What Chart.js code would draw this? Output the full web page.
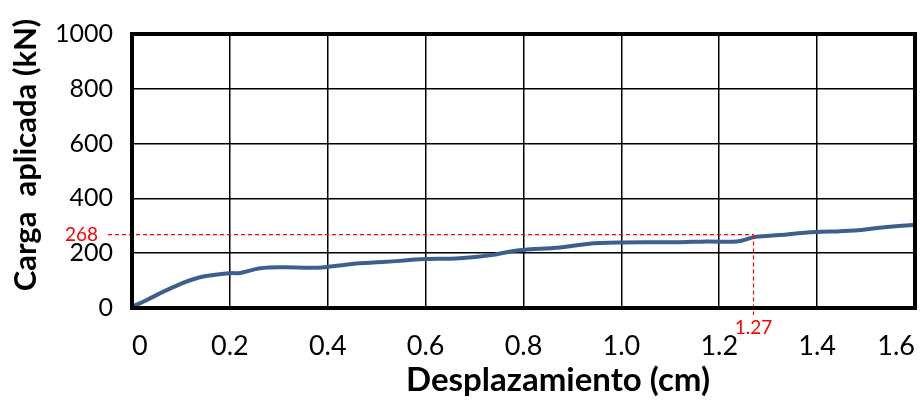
<!DOCTYPE html>
<html>
<head>
<meta charset="utf-8">
<script src="https://cdn.jsdelivr.net/npm/chart.js@4"></script>
<style>
  html, body { margin: 0; padding: 0; background: #fff; }
  #wrap { width: 923px; height: 401px; }
</style>
</head>
<body>
<div id="wrap"><canvas id="loadChart"></canvas></div>
<script>
// Desplazamiento (cm) vs Carga aplicada (kN)
const displacement = [0, 0.022, 0.084, 0.139, 0.2, 0.221, 0.262, 0.309, 0.364, 0.394, 0.466, 0.548, 0.588, 0.67, 0.731, 0.787, 0.875, 0.93, 0.997, 1.12, 1.175, 1.236, 1.275, 1.324, 1.375, 1.477, 1.528, 1.6];
const load = [5, 22, 76, 112, 127, 128, 145, 149, 147, 149, 163, 172, 178, 182, 192, 210, 221, 234, 239, 240, 243, 243, 260, 266, 275, 283, 293, 304];

const xTickLabels = ["0", "0.2", "0.4", "0.6", "0.8", "1.0", "1.2", "1.4", "1.6"];
const yTickLabels = ["0", "200", "400", "600", "800", "1000"];

// marked point
const refX = [1.27];
const refY = [268];

const FONT = "Lato, 'Open Sans', sans-serif";

// frame, reference lines and axis titles
const extras = {
  id: "extras",
  afterDraw(chart) {
    const ctx = chart.ctx;
    const a = chart.chartArea;
    const xs = chart.scales.x;
    const ys = chart.scales.y;
    ctx.save();

    // red dashed guide lines
    ctx.strokeStyle = "#ff0000";
    ctx.lineWidth = 1.2;
    ctx.setLineDash([4, 3]);
    refX.forEach((xv, i) => {
      const px = xs.getPixelForValue(xv);
      const py = ys.getPixelForValue(refY[i]);
      ctx.beginPath();
      ctx.moveTo(108, py);
      ctx.lineTo(px, py);
      ctx.moveTo(px, py);
      ctx.lineTo(px, a.bottom + 7);
      ctx.stroke();
      ctx.setLineDash([]);
      ctx.fillStyle = "#ff0000";
      ctx.font = "19px " + FONT;
      ctx.textAlign = "right";
      ctx.textBaseline = "middle";
      ctx.fillText(String(refY[i]), 98, py);
      ctx.textAlign = "center";
      ctx.textBaseline = "top";
      ctx.fillText(String(xv), px, a.bottom + 10);
    });

    // thick frame
    ctx.setLineDash([]);
    ctx.strokeStyle = "#000";
    ctx.lineWidth = 4;
    ctx.strokeRect(a.left, a.top, a.right - a.left, a.bottom - a.top);

    // axis titles
    ctx.fillStyle = "#000";
    ctx.textAlign = "center";
    ctx.textBaseline = "alphabetic";
    ctx.font = "bold 33px " + FONT;
    ctx.fillText("Desplazamiento (cm)", 558, 391);
    ctx.font = "bold 31px " + FONT;
    ctx.translate(36, 155);
    ctx.rotate(-Math.PI / 2);
    ctx.fillText("Carga  aplicada (kN)", 0, 0);
    ctx.restore();
  }
};

new Chart(document.getElementById("loadChart"), {
  type: "line",
  data: {
    datasets: [
      {
        label: "Carga",
        data: displacement.map((x, i) => ({ x: x, y: load[i] })),
        borderColor: "#3d5f8e",
        borderWidth: 4,
        pointRadius: 0,
        tension: 0.4,
        fill: false,
      },
    ],
  },
  options: {
    responsive: true,
    maintainAspectRatio: false,
    animation: false,
    layout: { padding: { top: 32, right: 8, left: 0, bottom: 0 } },
    plugins: {
      legend: { display: false },
      tooltip: { enabled: false },
    },
    scales: {
      x: {
        type: "linear",
        min: 0,
        max: 1.6,
        afterBuildTicks: (s) => {
          s.ticks = xTickLabels.map((t) => ({ value: parseFloat(t) }));
        },
        afterFit: (s) => {
          s.height = 93;
          s.paddingLeft = 0;
          s.paddingRight = 0;
        },
        grid: { color: "#000", lineWidth: 1.5, drawTicks: false },
        border: { display: false },
        ticks: {
          color: "#000",
          font: { family: FONT, size: 27 },
          padding: 22,
          align: "inner",
          maxRotation: 0,
          autoSkip: false,
          callback: (v, i) => xTickLabels[i],
        },
      },
      y: {
        type: "linear",
        min: 0,
        max: 1000,
        afterBuildTicks: (s) => {
          s.ticks = yTickLabels.map((t) => ({ value: parseFloat(t) }));
        },
        afterFit: (s) => {
          s.width = 132;
        },
        grid: { color: "#000", lineWidth: 1.5, drawTicks: false },
        border: { display: false },
        ticks: {
          color: "#000",
          font: { family: FONT, size: 25 },
          padding: 19,
          autoSkip: false,
          callback: (v, i) => yTickLabels[i],
        },
      },
    },
  },
  plugins: [extras],
});
</script>
</body>
</html>
